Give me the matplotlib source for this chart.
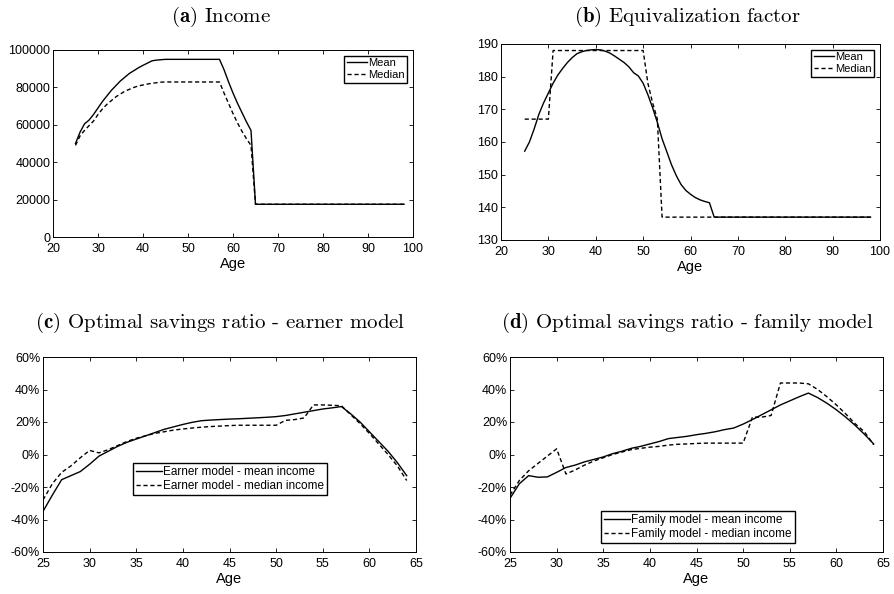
import numpy as np
import matplotlib
matplotlib.use("Agg")
import matplotlib.pyplot as plt
from matplotlib.ticker import FuncFormatter

plt.rcParams['font.family'] = ['Liberation Sans', 'DejaVu Sans']
plt.rcParams['mathtext.fontset'] = 'cm'

# --- (a) Einkommen ---
alter_a = list(range(25, 99))
einkommen_mean = [50000, 56000, 60500, 62500, 65500, 69000, 72500, 75500, 78500, 81000,
                  83500, 85500, 87500, 89000, 90500, 91800, 93000, 94200, 94600, 94800,
                  95000, 95000, 95000, 95000, 95000, 95000, 95000, 95000, 95000, 95000,
                  95000, 95000, 95000, 89500, 83000, 77000, 71500, 66500, 61500, 57000]
einkommen_mean += [17500] * (len(alter_a) - len(einkommen_mean))
einkommen_median = [49000, 54000, 57000, 59500, 62000, 65500, 68500, 71000, 73000, 75000,
                    76500, 78000, 79000, 80000, 80800, 81300, 81800, 82200, 82500, 82800,
                    82900, 82900, 82900, 82900, 82900, 82900, 82900, 82900, 82900, 82900,
                    82900, 82900, 82900, 77000, 71500, 66000, 61000, 56500, 52500, 49000]
einkommen_median += [17500] * (len(alter_a) - len(einkommen_median))

# --- (b) Äquivalenzfaktor ---
aequi_mean = [157.2, 160.0, 164.0, 168.5, 172.0, 175.0, 178.0, 180.5, 182.5, 184.3,
              185.8, 187.0, 187.6, 188.0, 188.2, 188.3, 188.2, 187.8, 187.2, 186.3,
              185.3, 184.3, 183.0, 181.2, 180.2, 178.0, 174.5, 170.5, 166.0, 161.0,
              157.0, 153.0, 149.7, 147.0, 145.2, 144.0, 143.0, 142.3, 141.8, 141.4]
aequi_mean += [137.0] * (len(alter_a) - len(aequi_mean))
aequi_median = [167] * 6 + [188] * 20 + [178, 172, 167]
aequi_median += [137.0] * (len(alter_a) - len(aequi_median))

# --- (c) Sparquote Earner-Modell ---
alter_c = list(range(25, 65))
earner_mean = [-35, -25, -15.5, -13, -10.5, -6, -1, 2, 5, 7.5,
               9.5, 11.5, 13.5, 15.5, 17, 18.5, 19.8, 20.8, 21.2, 21.5,
               21.8, 22, 22.3, 22.6, 22.9, 23.3, 24, 25, 26, 27,
               28, 28.7, 29.5, 25, 20, 14, 8, 2, -5, -13]
earner_median = [-28, -18, -11, -7, -2, 2.5, 1, 3, 5.5, 8,
                 10, 11.5, 13, 14, 15, 15.7, 16.3, 16.8, 17.2, 17.5,
                 17.8, 18, 18, 18, 18, 18, 21, 21.5, 22.5, 30.5,
                 30.5, 30.3, 30, 24.5, 19, 13, 6.5, 0, -7, -16]

# --- (d) Sparquote Family-Modell ---
family_mean = [-27, -18, -13, -14, -13.8, -11, -8, -6.5, -4.5, -3,
               -1.5, 0.5, 2, 3.8, 5, 6.5, 8, 9.8, 10.5, 11.2,
               12.2, 13, 14, 15.3, 16.3, 18.7, 21.5, 24.5, 27.5, 30.5,
               33, 35.5, 37.8, 35, 31.5, 27.5, 23, 18, 12.5, 6.5]
family_median = [-25, -16, -10, -5.5, -1, 3.5, -12, -9.5, -6.5, -4,
                 -2, 0, 1.5, 3, 3.8, 4.5, 5, 5.8, 6.3, 6.5,
                 6.8, 7, 7, 7, 7, 7, 23, 23, 24, 44,
                 44, 44, 43.5, 40, 35.5, 30.5, 25, 19, 14, 6]

fig = plt.figure(figsize=(8.94, 5.94), dpi=100)
W, H = 894, 594

def achse(l, t, r, b):
    return fig.add_axes([l / W, 1 - b / H, (r - l) / W, (b - t) / H])

ax_a = achse(53, 50, 413, 237)
ax_b = achse(501, 44, 880, 240)
ax_c = achse(43, 357, 416, 552)
ax_d = achse(510, 357, 883, 552)

for ax in [ax_a, ax_b, ax_c, ax_d]:
    ax.tick_params(direction='in', top=True, right=True, length=3, width=0.6,
                   labelsize=9)
    ax.tick_params(axis='y', pad=2)
    ax.tick_params(axis='x', pad=4)
    for s in ax.spines.values():
        s.set_linewidth(0.7)
    ax.set_xlabel("Age", fontsize=10.5, labelpad=2)

lw = 1.0
leg_kw = dict(frameon=True, fancybox=False, edgecolor='black', framealpha=1,
              handletextpad=0.1, borderpad=0.25, labelspacing=0.15)

ax_a.plot(alter_a, einkommen_mean, 'k-', lw=lw, label='Mean')
ax_a.plot(alter_a, einkommen_median, 'k--', lw=lw, label='Median', dashes=(3, 2))
ax_a.set_xlim(20, 100)
ax_a.set_ylim(0, 100000)
ax_a.set_xticks(range(20, 101, 10))
ax_a.set_yticks(range(0, 100001, 20000))
ax_a.legend(loc='upper right', fontsize=8, handlelength=1.8, borderaxespad=0.5, **leg_kw)

ax_b.plot(alter_a, aequi_mean, 'k-', lw=lw, label='Mean')
ax_b.plot(alter_a, aequi_median, 'k--', lw=lw, label='Median', dashes=(3, 2))
ax_b.set_xlim(20, 100)
ax_b.set_ylim(130, 190)
ax_b.set_xticks(range(20, 101, 10))
ax_b.set_yticks(range(130, 191, 10))
ax_b.legend(loc='upper right', fontsize=8, handlelength=1.8, borderaxespad=0.5, **leg_kw)

prozent = FuncFormatter(lambda v, p: f"{v:.0f}%")

ax_c.plot(alter_c, earner_mean, 'k-', lw=lw, label='Earner model - mean income')
ax_c.plot(alter_c, earner_median, 'k--', lw=lw, label='Earner model - median income', dashes=(3, 2))
ax_d.plot(alter_c, family_mean, 'k-', lw=lw, label='Family model - mean income')
ax_d.plot(alter_c, family_median, 'k--', lw=lw, label='Family model - median income', dashes=(3, 2))

for ax, pos in [(ax_c, (0.241, 0.292)), (ax_d, (0.244, 0.046))]:
    ax.set_xlim(25, 65)
    ax.set_ylim(-60, 60)
    ax.set_xticks(range(25, 66, 5))
    ax.set_yticks(range(-60, 61, 20))
    ax.yaxis.set_major_formatter(prozent)
    ax.legend(loc='lower left', bbox_to_anchor=pos, borderaxespad=0, fontsize=8.5,
              handlelength=2.2, **leg_kw)

titel = [(221, 17, r"$\mathbf{(a)}$ Income"),
         (687, 17, r"$\mathbf{(b)}$ Equivalization factor"),
         (220, 323, r"$\mathbf{(c)}$ Optimal savings ratio - earner model"),
         (687, 323, r"$\mathbf{(d)}$ Optimal savings ratio - family model")]
for x, y, t in titel:
    fig.text(x / W, 1 - y / H, t, ha='center', va='center', fontsize=15,
             family='cmr10')

fig.savefig("out.png", dpi=100)
